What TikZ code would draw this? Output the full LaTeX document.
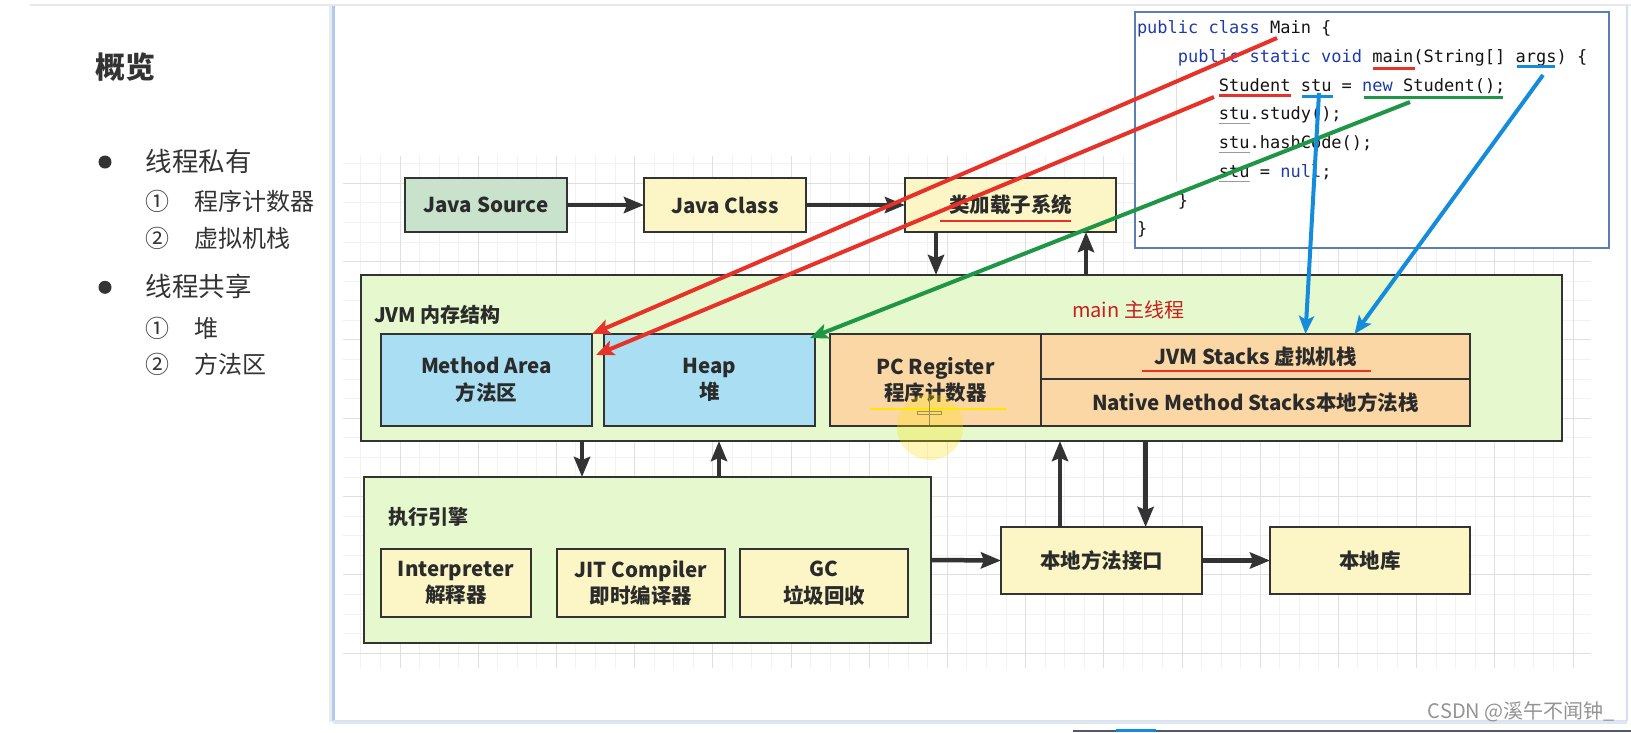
\documentclass[tikz,border=0pt]{standalone}
\usepackage{fontspec}
\setmainfont{Noto Sans CJK SC}
\newfontfamily\codefont{DejaVu Sans Mono}
\usetikzlibrary{arrows.meta}
\definecolor{boxline}{HTML}{333333}
\definecolor{txt}{HTML}{2B2B2B}
\definecolor{srcgreen}{HTML}{C8E2CC}
\definecolor{lightyellow}{HTML}{FCF6C6}
\definecolor{regiongreen}{HTML}{E6F8CD}
\definecolor{memblue}{HTML}{AADFF3}
\definecolor{peach}{HTML}{FAD7A5}
\definecolor{arrowgray}{HTML}{333333}
\definecolor{annred}{HTML}{E63228}
\definecolor{anngreen}{HTML}{1E9646}
\definecolor{annblue}{HTML}{148CDC}
\definecolor{kwblue}{HTML}{1F3BA8}
\definecolor{codeline}{HTML}{5B7FB5}
\definecolor{framblue}{HTML}{B2CAEC}
\definecolor{mainred}{HTML}{C81E1E}
\definecolor{panelgray}{HTML}{333333}
\newcommand{\kw}[1]{\textcolor{kwblue}{#1}}
\begin{document}
\begin{tikzpicture}[x=1pt,y=-1pt,
  box/.style={draw=boxline, line width=1.5pt, anchor=north west, inner sep=0pt, outer sep=0pt,
    align=center, text=txt, font=\bfseries\fontsize{20.5}{26.6}\selectfont},
  region/.style={draw=boxline, line width=1.5pt, anchor=north west, inner sep=0pt, outer sep=0pt, fill=regiongreen},
  blk/.style={draw=arrowgray, line width=4.5pt, -{Stealth[length=20pt,width=16pt,inset=3pt]}},
  ann/.style={line width=4pt, -{Stealth[length=18pt,width=15pt,inset=4pt]}},
  uline/.style={line width=2.5pt},
  label/.style={anchor=west, inner sep=0pt, outer sep=0pt, text=txt, font=\bfseries\fontsize{20}{24}\selectfont},
  panel/.style={anchor=west, inner sep=0pt, outer sep=0pt, text=panelgray},
  codetxt/.style={anchor=base west, inner sep=0pt, outer sep=0pt, text=black!92, font=\codefont\fontsize{17}{20}\selectfont},
  gridminor/.style={draw=black!5, line width=1pt},
  gridmajor/.style={draw=black!12, line width=1pt}
]
\useasboundingbox (0,0) rectangle (1631,732);
\fill[white] (0,0) rectangle (1631,732);
% top edge
\draw[black!9, line width=1.5pt] (30,5) -- (1631,5);
% grid
\foreach \k in {-2,...,60} \draw[gridminor] ({400+19.55*\k},156) -- ({400+19.55*\k},668);
\foreach \k in {-1,...,24} \draw[gridminor] (343,{183.3+19.58*\k}) -- (1591,{183.3+19.58*\k});
\foreach \m in {0,...,15} \draw[gridmajor] ({400+78.2*\m},156) -- ({400+78.2*\m},668);
\foreach \m in {0,...,6} \draw[gridmajor] (343,{183.3+78.3*\m}) -- (1591,{183.3+78.3*\m});
% frame
\draw[framblue!35, line width=4pt] (331,6) -- (331,722);
\draw[framblue, line width=2.5pt] (333.5,6) -- (333.5,720.5);
\draw[framblue!45, line width=3pt] (333,722) -- (1627,722);
\draw[black!12, line width=1pt] (333,720) -- (1627,720);
\draw[framblue!60, line width=2pt] (1627,6) -- (1627,721);
\draw[black!55!framblue, line width=2.5pt] (1073,730.8) -- (1631,730.8);
\draw[annblue, line width=3pt] (1116,730.5) -- (1156,730.5);

% left panel
\node[panel, font=\bfseries\fontsize{30}{34}\selectfont] (title) at (95,67.5) {概览};
\fill[panelgray] (105,162) circle (6.5);
\node[panel, font=\fontsize{26.5}{30}\selectfont] (priv) at (145.5,161) {线程私有};
\node[panel, font=\fontsize{24}{28}\selectfont] (p1n) at (145.5,201.7) {①};
\node[panel, font=\fontsize{24}{28}\selectfont] (p1) at (194.5,201.7) {程序计数器};
\node[panel, font=\fontsize{24}{28}\selectfont] (p2n) at (145.5,238.3) {②};
\node[panel, font=\fontsize{24}{28}\selectfont] (p2) at (194.5,238.3) {虚拟机栈};
\fill[panelgray] (105,287.3) circle (6.5);
\node[panel, font=\fontsize{26.5}{30}\selectfont] (shared) at (145.5,286.7) {线程共享};
\node[panel, font=\fontsize{24}{28}\selectfont] (s1n) at (145.5,328.3) {①};
\node[panel, font=\fontsize{24}{28}\selectfont] (s1) at (194.5,328.3) {堆};
\node[panel, font=\fontsize{24}{28}\selectfont] (s2n) at (145.5,364) {②};
\node[panel, font=\fontsize{24}{28}\selectfont] (s2) at (194.5,364) {方法区};

% top row
\node[box, fill=srcgreen, minimum width=162, minimum height=54] (js) at (405,178) {Java Source};
\node[box, fill=lightyellow, minimum width=162, minimum height=54] (jc) at (644,178) {Java Class};
\node[box, fill=lightyellow, minimum width=211, minimum height=54] (cl) at (905,178) {类加载子系统};

% JVM memory region
\node[region, minimum width=1201, minimum height=166] (jvm) at (361,275) {};
\node[label] (jvmlabel) at (374,315) {JVM 内存结构};
\node[anchor=west, inner sep=0pt, text=mainred, font=\fontsize{20}{24}\selectfont] (mainth) at (1072,310) {main 主线程};
\node[box, fill=memblue, minimum width=211, minimum height=92] (ma) at (381,334) {Method Area\\方法区};
\node[box, fill=memblue, minimum width=211, minimum height=92] (heap) at (604,334) {Heap\\堆};
\node[box, fill=peach, minimum width=211, minimum height=92] (pc) at (830,334) {PC Register\\程序计数器};
\node[box, fill=peach, minimum width=429, minimum height=45] (jvms) at (1041,334) {JVM Stacks 虚拟机栈};
\node[box, fill=peach, minimum width=429, minimum height=47] (nms) at (1041,379) {Native Method Stacks本地方法栈};

% execution engine
\node[region, minimum width=567, minimum height=166] (ee) at (364,477) {};
\node[label] (eelabel) at (388.5,517) {执行引擎};
\node[box, fill=lightyellow, minimum width=150, minimum height=68] (interp) at (381,549) {Interpreter\\解释器};
\node[box, fill=lightyellow, minimum width=168, minimum height=68] (jit) at (557,549) {JIT Compiler\\即时编译器};
\node[box, fill=lightyellow, minimum width=168, minimum height=68] (gc) at (740,549) {GC\\垃圾回收};

% native
\node[box, fill=lightyellow, minimum width=201, minimum height=67] (nmi) at (1001,527) {本地方法接口};
\node[box, fill=lightyellow, minimum width=200, minimum height=67] (nl) at (1270,527) {本地库};

% black arrows
\draw[blk] (js.east) -- (jc.west);
\draw[blk] (jc.east) -- (cl.west);
\draw[blk] ([xshift=31]cl.south west) -- ([xshift=31]cl.south west |- jvm.north);
\draw[blk] ([xshift=-30]cl.south east |- jvm.north) -- ([xshift=-30]cl.south east);
\draw[blk] ([xshift=218]ee.north west |- jvm.south) -- ([xshift=218]ee.north west);
\draw[blk] ([xshift=355]ee.north west) -- ([xshift=355]ee.north west |- jvm.south);
\draw[blk] (ee.east) -- (nmi.west);
\draw[blk] (nmi.east) -- (nl.west);
\draw[blk] ([xshift=59]nmi.north west) -- ([xshift=59]nmi.north west |- jvm.south);
\draw[blk] ([xshift=144.6]nmi.north west |- jvm.south) -- ([xshift=144.6]nmi.north west);

% highlights
\draw[annred, uline] (940,221) -- (1071,221);
\draw[annred, uline] (1142,371) -- (1371,371);
\fill[yellow!85!orange, opacity=0.28] (930,427) circle (33);
\draw[yellow!90!orange, line width=2.5pt] (870,409) -- (1007,409);
\draw[black!45!yellow, line width=1pt] (929.3,398) -- (929.3,425);
\draw[black!45!yellow, line width=1pt] (917.5,411) rectangle (941.5,414.5);

% code box
\node[draw=codeline, line width=1.5pt, fill=white, anchor=north west, inner sep=0pt, outer sep=0pt,
      minimum width=474, minimum height=236] (code) at (1135,12) {};
\draw[black!12, line width=1pt] (1176.7,70) -- (1176.7,182);
\node[codetxt] (l1) at (1137,33.3) {\kw{public} \kw{class} Main \{};
\node[codetxt] (l2) at (1177.9,62) {\kw{public} \kw{static} \kw{void} main(String[] args) \{};
\node[codetxt] (l3) at (1218.9,91) {Student stu = \kw{new} Student();};
\node[codetxt] (l4) at (1218.9,119.3) {stu.study();};
\node[codetxt] (l5) at (1218.9,148.3) {stu.hashCode();};
\node[codetxt] (l6) at (1218.9,177.3) {stu = \kw{null};};
\node[codetxt] (l7) at (1177.9,206) {\}};
\node[codetxt] (l8) at (1137,234.3) {\}};
\foreach \yy in {123.5,152.5,181.5} \draw[black!40, line width=1pt] (1218.9,\yy) -- (1249.6,\yy);

% code annotations
\draw[annred, uline] (1373,68.3) -- (1415,68.3);
\draw[annblue, uline] (1517,66.7) -- (1555,66.7);
\draw[annred, uline] (1219,95.7) -- (1291,95.7);
\draw[annblue, uline] (1302,96.7) -- (1333,96.7);
\draw[anngreen, uline] (1364,97.3) -- (1503,97.3);
\coordinate (cMain) at (1277,38);
\coordinate (cStudent) at (1214,97);
\coordinate (cNew) at (1410,102);
\coordinate (cStu) at (1319,93);
\coordinate (cArgs) at (1543,75);

% annotation arrows
\draw[ann, annred] (cMain) -- (ma.north east);
\draw[ann, annred] (cStudent) -- ([xshift=4,yshift=-21]ma.north east);
\draw[ann, anngreen] (cNew) -- ([xshift=-5,yshift=-4]heap.north east);
\draw[ann, annblue] (cStu) -- ([xshift=50]jvms.north);
\draw[ann, annblue] (cArgs) -- ([xshift=99]jvms.north);

% watermark
\node[anchor=east, inner sep=0pt, text=black!42, font=\fontsize{20}{24}\selectfont] (wm) at (1615,712) {CSDN @溪午不闻钟\_};
\end{tikzpicture}
\end{document}
